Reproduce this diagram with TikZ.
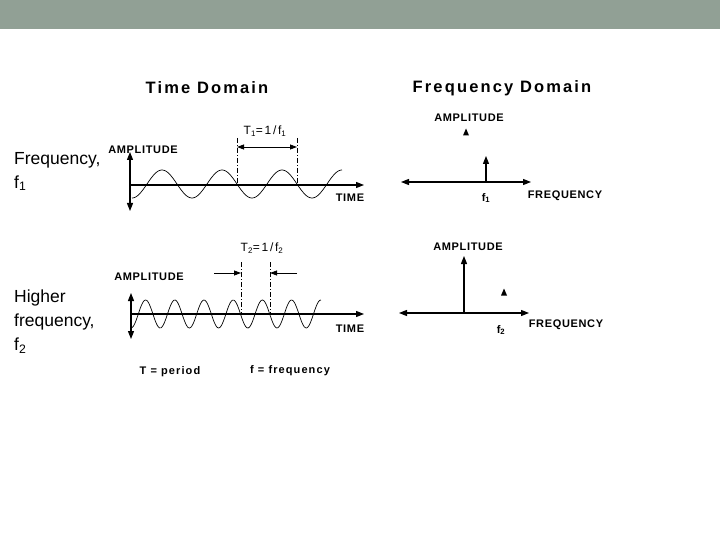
\documentclass[tikz,border=0pt]{standalone}
\usepackage{fontspec}
\setmainfont{Liberation Sans}
\newfontfamily\headfont[LetterSpace=13]{Liberation Sans}
\newfontfamily\tagfont[LetterSpace=6]{Liberation Sans}
\newfontfamily\notefont[LetterSpace=10]{Liberation Sans}
\newfontfamily\perfont[LetterSpace=14]{Liberation Sans}
\usetikzlibrary{arrows.meta}
\definecolor{bandgray}{RGB}{145,160,149}

\begin{document}
\begin{tikzpicture}[x=1pt, y=-1pt, >={Triangle[length=8pt,width=6pt]},
  every node/.style={inner sep=0pt},
  head/.style={font=\headfont\bfseries\fontsize{16.5}{19}\selectfont},
  side/.style={font=\fontsize{17.5}{24}\selectfont, align=left},
  tag/.style={font=\tagfont\bfseries\fontsize{11}{13}\selectfont},
  note/.style={font=\notefont\bfseries\fontsize{11}{13}\selectfont},
  per/.style={font=\perfont\fontsize{12}{14}\selectfont},
  axis/.style={line width=1.2pt},
  wave/.style={line width=0.7pt, smooth, samples=160},
  mark line/.style={line width=0.6pt, dash pattern=on 5pt off 2pt on 1pt off 2pt},
  dim/.style={line width=0.8pt, >={Triangle[length=7pt,width=5pt]}}]

  \fill[bandgray] (0,0) rectangle (720,29);
  \useasboundingbox (0,0) rectangle (720,540);

  \node[head] (tdom) at (207,88) {Time Domain};
  \node[head] (fdom) at (502,88) {Frequency Domain};

  \node[side, anchor=north west] (row1) at (14,152) {Frequency,\\f\textsubscript{1}};
  \node[side, anchor=north west] (row2) at (14,290) {Higher\\frequency,\\f\textsubscript{2}};

  % time domain, f1
  \node[tag] (amp1) at (143,150) {AMPLITUDE};
  \node[tag] (time1) at (350,198) {TIME};
  \node[per] (per1) at (265,131) {T\textsubscript{1}=1/f\textsubscript{1}};
  \coordinate (a1top) at (130,152);
  \coordinate (a1bot) at (130,211);
  \coordinate (o1) at (130,185);
  \coordinate (t1end) at (364,185);
  \draw[axis, <->] (a1top) -- (a1bot);
  \draw[axis, ->] (o1) -- (t1end);
  \draw[wave, domain=132:342] plot (\x, {184-14*cos(6*(\x-162))});
  \foreach \x/\n in {237/a,297/b} {
    \coordinate (k1\n) at (\x,138);
    \coordinate (m1\n) at (\x,147);
    \coordinate (e1\n) at (\x,185);
    \draw[mark line] (k1\n) -- (e1\n);
  }
  \draw[dim, <->] (m1a) -- (m1b);

  % time domain, f2
  \node[tag] (amp2) at (149,277) {AMPLITUDE};
  \node[tag] (time2) at (350,329) {TIME};
  \node[per] (per2) at (262,248) {T\textsubscript{2}=1/f\textsubscript{2}};
  \coordinate (a2top) at (131,293);
  \coordinate (a2bot) at (131,339);
  \coordinate (o2) at (131,314);
  \coordinate (t2end) at (364,314);
  \draw[axis, <->] (a2top) -- (a2bot);
  \draw[axis, ->] (o2) -- (t2end);
  \draw[wave, domain=131:321] plot (\x, {314+14*cos(12.3288*(\x-131))});
  \foreach \x/\n in {241/a,270/b} {
    \coordinate (k2\n) at (\x,262);
    \coordinate (m2\n) at (\x,273);
    \coordinate (e2\n) at (\x,314);
    \draw[mark line] (k2\n) -- (e2\n);
  }
  \coordinate (m2l) at (214,273);
  \coordinate (m2r) at (297,273);
  \draw[dim, ->] (m2l) -- (m2a);
  \draw[dim, ->] (m2r) -- (m2b);

  \node[note] (tnote) at (170,372) {T = period};
  \node[note] (fnote) at (290,371) {f = frequency};

  % frequency domain
  \node[tag] (amp3) at (469,118) {AMPLITUDE};
  \node[tag] (freq1) at (565,196) {FREQUENCY};
  \node[tag] (f1) at (486,198) {f\textsubscript{1}};
  \coordinate (h1l) at (401,182);
  \coordinate (h1r) at (531,182);
  \coordinate (s1b) at (486,182);
  \coordinate (s1t) at (486,156);
  \draw[axis, <->] (h1l) -- (h1r);
  \draw[axis, ->] (s1b) -- (s1t);

  \node[tag] (amp4) at (468,247) {AMPLITUDE};
  \node[tag] (freq2) at (566,325) {FREQUENCY};
  \node[tag] (f2) at (501,330) {f\textsubscript{2}};
  \coordinate (h2l) at (399,313);
  \coordinate (h2r) at (529,313);
  \coordinate (s2b) at (464,313);
  \coordinate (s2t) at (464,256);
  \draw[axis, <->] (h2l) -- (h2r);
  \draw[axis, ->] (s2b) -- (s2t);

  \foreach \x/\y in {466/132,504/292}
    \fill (\x-3,\y+3.5) -- (\x+3,\y+3.5) -- (\x,\y-3.5) -- cycle;
\end{tikzpicture}
\end{document}
